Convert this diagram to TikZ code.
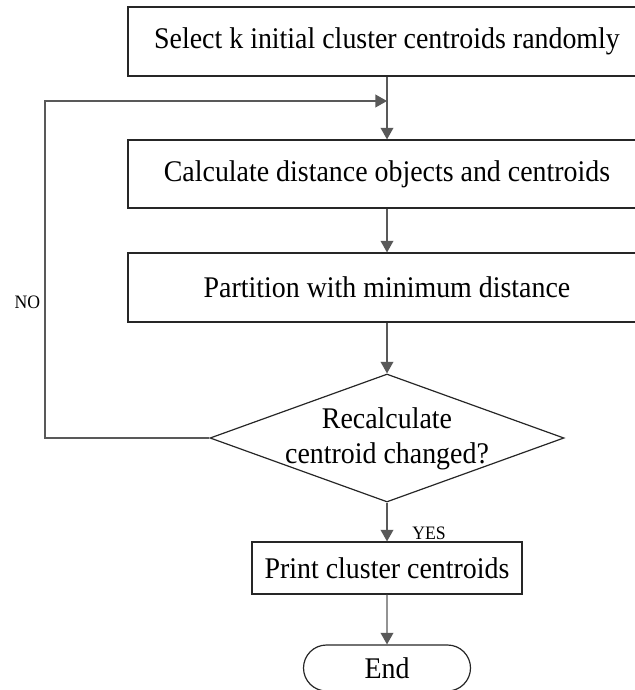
\documentclass[tikz,border=0pt]{standalone}
\usepackage{fontspec}
\setmainfont{Liberation Serif}[FakeStretch=0.93]
\usetikzlibrary{shapes.geometric,shapes.misc,arrows.meta}
\begin{document}
\begin{tikzpicture}[x=0.5pt,y=-0.5pt,
  box/.style={draw=black!85, line width=0.6pt, rectangle, inner sep=0pt,
              font=\fontsize{15}{17.5}\selectfont, align=center},
  flow/.style={draw=black!65, line width=0.6pt, -{Triangle[length=5.8pt,width=6.4pt]}},
  tag/.style={font=\fontsize{9.5}{10}\selectfont, inner sep=0pt}]
\useasboundingbox (0,0) rectangle (635,690);
\clip (0,0) rectangle (635,690);

% process steps
\node[box, minimum width=259pt, minimum height=34.5pt] (sel) at (387,41.5)
  {Select k initial cluster centroids randomly};
\node[box, minimum width=259pt, minimum height=34pt] (calc) at (387,174)
  {Calculate distance objects and centroids};
\node[box, minimum width=259pt, minimum height=34.5pt] (part) at (387,287.5)
  {Partition with minimum distance};

% decision
\node[diamond, draw=black!85, line width=0.6pt, inner sep=0pt,
      minimum width=177pt, minimum height=64pt] (dia) at (387,438) {};
\node[font=\fontsize{15}{17.5}\selectfont, align=center, inner sep=0pt] (diatext) at (387,439)
  {Recalculate\\centroid changed?};

% output and terminal
\node[box, minimum width=135pt, minimum height=26pt] (print) at (387,568)
  {Print cluster centroids};
\node[box, rounded rectangle, minimum width=83.5pt, minimum height=23pt] (end) at (387,668)
  {End};

% loop-back helpers
\coordinate (join) at (387,101);
\coordinate (back) at (45,438);

% connectors
\draw[flow] (sel) -- (calc);
\draw[flow] (calc) -- (part);
\draw[flow] (part) -- (dia);
\draw[flow] (dia) -- (print);
\draw[flow] (print) -- (end);
\draw[flow] (dia.west) -- (back) |- (join);

% branch labels
\node[tag, anchor=base west] (yes) at (412,539) {YES};
\node[tag] (no) at (27.5,302) {NO};
\end{tikzpicture}
\end{document}
